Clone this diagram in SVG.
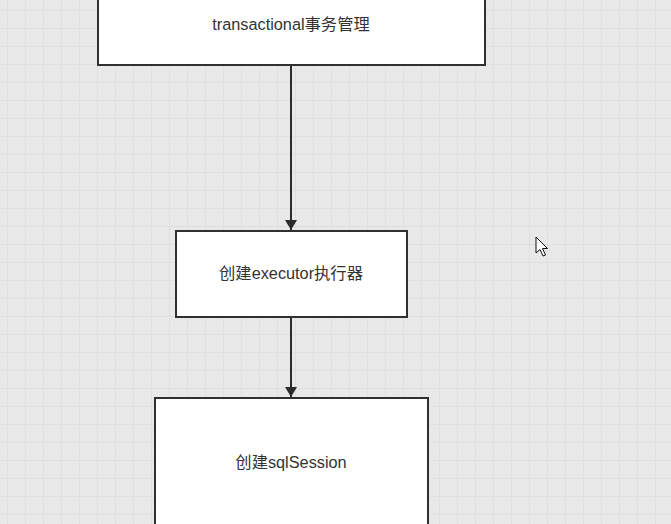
<svg xmlns="http://www.w3.org/2000/svg" width="671" height="524" viewBox="0 0 671 524">
  <defs>
    <pattern id="grid" x="7" y="10" width="18" height="18" patternUnits="userSpaceOnUse">
      <path d="M0 0V18M0 0H18" fill="none" stroke="#d8d8d8" stroke-width="1"/>
    </pattern>
    <marker id="arrow" viewBox="0 0 10 14" refX="10" refY="7" markerWidth="10" markerHeight="14" markerUnits="userSpaceOnUse" orient="auto">
      <path d="M0 1L10 7L0 13Z" fill="#2b2b2b"/>
    </marker>
    <style>
      .box { fill: #ffffff; stroke: #303030; stroke-width: 2; }
      .label { font-family: "Liberation Sans", "Noto Sans CJK SC", sans-serif; font-size: 16.3px; fill: #333333; text-anchor: middle; dominant-baseline: central; }
      .edge { stroke: #2b2b2b; stroke-width: 2; fill: none; marker-end: url(#arrow); }
    </style>
  </defs>

  <!-- canvas background with grid -->
  <rect width="671" height="524" fill="#e8e8e8"/>
  <rect width="671" height="524" fill="url(#grid)"/>

  <g id="connectors">
    <line class="edge" x1="291" y1="66" x2="291" y2="230"/>
    <line class="edge" x1="291" y1="318" x2="291" y2="397"/>
  </g>

  <g id="node-transactional">
    <rect class="box" x="98" y="-4" width="387" height="69"/>
    <text class="label" x="291" y="24">transactional事务管理</text>
  </g>

  <g id="node-executor">
    <rect class="box" x="176" y="231" width="231" height="86"/>
    <text class="label" x="291" y="273">创建executor执行器</text>
  </g>

  <g id="node-sqlsession">
    <rect class="box" x="155" y="398" width="273" height="130"/>
    <text class="label" x="291" y="462">创建sqlSession</text>
  </g>

  <!-- mouse pointer -->
  <path d="M536 237L536 253L540 249.5L543 256L545.5 255L542.5 248.5L547.5 248.5Z" fill="#ffffff" stroke="#111111" stroke-width="1" stroke-linejoin="round"/>
</svg>
